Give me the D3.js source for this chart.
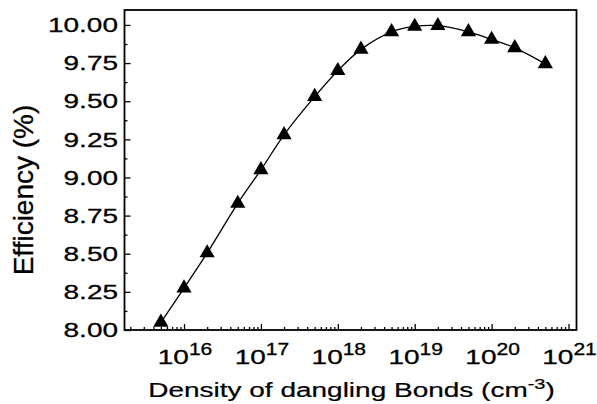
<!DOCTYPE html>
<html>
<head>
<meta charset="utf-8">
<script src="https://cdn.jsdelivr.net/npm/d3@7"></script>
<style>
  html, body { margin: 0; padding: 0; background: #fff; }
  svg { display: block; }
  text { font-family: "Liberation Sans", Arial, Helvetica, sans-serif; fill: #000; }
</style>
</head>
<body>
<svg id="chart" width="597" height="404"></svg>
<script>
// ---- data ----
const density = [5e15, 1e16, 2e16, 5e16, 1e17, 2e17, 5e17, 1e18, 2e18, 5e18, 1e19, 2e19, 5e19, 1e20, 2e20, 5e20];
const efficiency = [8.05, 8.275, 8.505, 8.83, 9.05, 9.28, 9.53, 9.70, 9.84, 9.955, 9.99, 9.995, 9.955, 9.905, 9.85, 9.745];
const xMajorTicks = [1e16, 1e17, 1e18, 1e19, 1e20, 1e21];
const xTickExponents = ["16", "17", "18", "19", "20", "21"];
const yMajorTicks = [8.00, 8.25, 8.50, 8.75, 9.00, 9.25, 9.50, 9.75, 10.00];
const xTitle = "Density of dangling Bonds (cm";
const xTitleSup = "-3";
const yTitle = "Efficiency (%)";

// ---- layout ----
const L = 124.5, R = 576.5, T = 10, B = 330;
const svg = d3.select("#chart");

const x = d3.scaleLog().domain([Math.pow(10, 15.226), Math.pow(10, 21.104)]).range([L, R]);
const y = d3.scaleLinear().domain([8, 10.098]).range([B, T]);

// minor ticks
const xMinor = [];
for (let e = 15; e <= 21; e++) for (let m = 2; m <= 9; m++) {
  const v = m * Math.pow(10, e);
  if (v > x.domain()[0] && v < x.domain()[1]) xMinor.push(v);
}
const yMinor = yMajorTicks.slice(0, -1).map(v => v + 0.125);

// x axis ticks (inward)
const gxMin = svg.append("g").attr("transform", `translate(0,${B})`)
  .call(d3.axisBottom(x).tickValues(xMinor).tickSize(-3).tickFormat(""));
const gxMaj = svg.append("g").attr("transform", `translate(0,${B})`)
  .call(d3.axisBottom(x).tickValues(xMajorTicks).tickSize(-6).tickFormat(""));
[gxMin, gxMaj].forEach(g => {
  g.select(".domain").remove();
  g.selectAll("line").attr("stroke", "#000").attr("stroke-width", 1.3);
});

// x tick labels: 10 with superscript exponent
xMajorTicks.forEach((v, i) => {
  const g = svg.append("g").attr("transform", `translate(${x(v) + 1},363.5) scale(1,0.75)`);
  const t = g.append("text").attr("text-anchor", "middle").attr("font-size", 28)
    .attr("stroke", "#000").attr("stroke-width", 0.4);
  t.append("tspan").text("10");
  t.append("tspan").attr("font-size", 21).attr("dy", -11.5).text(xTickExponents[i]);
});

// y axis (inward ticks)
const gyMin = svg.append("g").attr("transform", `translate(${L},0)`)
  .call(d3.axisLeft(y).tickValues(yMinor).tickSize(-3).tickFormat(""));
const gyMaj = svg.append("g").attr("transform", `translate(${L},0)`)
  .call(d3.axisLeft(y).tickValues(yMajorTicks).tickSize(-6).tickPadding(6.5).tickFormat(d3.format(".2f")));
[gyMin, gyMaj].forEach(g => {
  g.select(".domain").remove();
  g.selectAll("line").attr("stroke", "#000").attr("stroke-width", 1.3);
});
gyMaj.selectAll("text")
  .attr("font-size", 28)
  .attr("font-family", "'Liberation Sans', Arial, sans-serif")
  .attr("fill", "#000")
  .attr("stroke", "#000").attr("stroke-width", 0.4)
  .attr("transform", "scale(1,0.75)");

// frame
svg.append("rect").attr("x", L).attr("y", T).attr("width", R - L).attr("height", B - T)
  .attr("fill", "none").attr("stroke", "#000").attr("stroke-width", 1.8);

// curve
const line = d3.line().x((d, i) => x(density[i])).y(d => y(d)).curve(d3.curveCatmullRom.alpha(0.5));
svg.append("path").datum(efficiency).attr("d", line)
  .attr("fill", "none").attr("stroke", "#000").attr("stroke-width", 1.3);

// markers
svg.append("g").selectAll("path").data(efficiency).join("path")
  .attr("transform", (d, i) => `translate(${x(density[i])},${y(d)})`)
  .attr("d", d3.symbol().type(d3.symbolTriangle).size(100))
  .attr("fill", "#000");

// x title
const xt = svg.append("g").attr("transform", `translate(${(L + R) / 2 + 1},397) scale(1,0.75)`)
  .append("text").attr("text-anchor", "middle").attr("font-size", 28)
  .attr("stroke", "#000").attr("stroke-width", 0.3);
xt.append("tspan").text(xTitle);
xt.append("tspan").attr("font-size", 20).attr("dy", -11).text(xTitleSup);
xt.append("tspan").attr("dy", 11).text(")");

// y title
svg.append("text").attr("transform", "translate(33,190) rotate(-90)")
  .attr("text-anchor", "middle").attr("font-size", 28)
  .attr("stroke", "#000").attr("stroke-width", 0.3).text(yTitle);
</script>
</body>
</html>
